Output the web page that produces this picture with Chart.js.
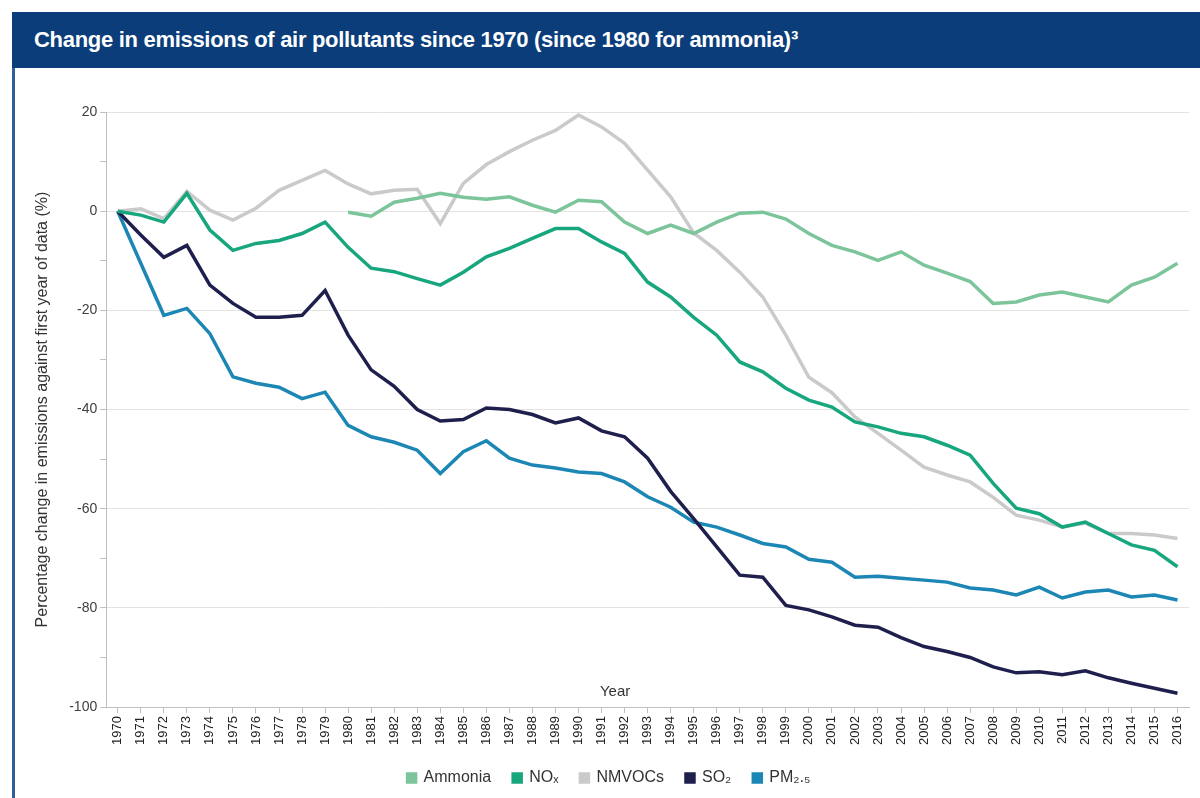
<!DOCTYPE html>
<html>
<head>
<meta charset="utf-8">
<script src="https://cdn.jsdelivr.net/npm/chart.js@4/dist/chart.umd.min.js"></script>
<style>
  body { margin: 0; width: 1200px; height: 798px; background: #fff; overflow: hidden; position: relative; font-family: "Liberation Sans", Arial, sans-serif; }
  #header { position: absolute; left: 12px; top: 12px; width: 1188px; height: 56px; background: #0a3d7a; }
  #header h1 { margin: 0; padding-left: 22px; line-height: 56px; color: #fff; font-size: 22px; font-weight: bold; letter-spacing: -0.3px; }
  #leftBorder { position: absolute; left: 12px; top: 68px; width: 3px; height: 730px; background: #2f5f98; }
  #chartBox { position: absolute; left: 15px; top: 68px; width: 1185px; height: 730px; }
</style>
</head>
<body>
<div id="header"><h1>Change in emissions of air pollutants since 1970 (since 1980 for ammonia)³</h1></div>
<div id="leftBorder"></div>
<div id="chartBox"><canvas id="emissionsChart" width="1185" height="730"></canvas></div>
<script>
  const years = [];
  for (let y = 1970; y <= 2016; y++) years.push(String(y));

  // percentage change against first year of data
  const ammonia = [null, null, null, null, null, null, null, null, null, null,
    -0.2, -1, 1.8, 2.6, 3.6, 2.8, 2.4, 2.9, 1.2, -0.2,
    2.2, 1.9, -2.2, -4.5, -2.8, -4.5, -2.2, -0.4, -0.2, -1.6,
    -4.5, -6.9, -8.2, -9.9, -8.2, -10.9, -12.5, -14.2, -18.6, -18.3,
    -16.9, -16.3, -17.3, -18.3, -14.9, -13.3, -10.5];
  const nox = [0, -0.8, -2.2, 3.6, -3.8, -7.9, -6.5, -5.9, -4.5, -2.2,
    -7.3, -11.5, -12.2, -13.6, -14.9, -12.3, -9.2, -7.5, -5.5, -3.5,
    -3.5, -6.2, -8.5, -14.3, -17.3, -21.4, -25, -30.4, -32.4, -35.7,
    -38.1, -39.5, -42.5, -43.5, -44.8, -45.5, -47.2, -49.2, -54.9, -59.9,
    -61, -63.7, -62.7, -65, -67.3, -68.4, -71.7];
  const nmvocs = [0, 0.5, -1.5, 4, 0.2, -1.8, 0.6, 4.2, 6.2, 8.2,
    5.5, 3.5, 4.2, 4.4, -2.5, 5.6, 9.4, 12, 14.3, 16.3,
    19.4, 17, 13.7, 8.3, 2.9, -4.4, -7.9, -12.3, -17.3, -25,
    -33.5, -36.6, -41.5, -44.8, -48.2, -51.6, -53.2, -54.6, -57.7, -61.3,
    -62.3, -63.7, -62.9, -65, -65, -65.3, -66];
  const so2 = [0, -4.8, -9.3, -6.9, -14.9, -18.6, -21.4, -21.4, -21, -16,
    -25, -32, -35.3, -40, -42.3, -42, -39.7, -40, -41, -42.7,
    -41.7, -44.3, -45.5, -49.8, -56.5, -62, -67.7, -73.4, -73.8, -79.5,
    -80.4, -81.8, -83.5, -83.9, -86, -87.8, -88.8, -90, -91.9, -93.1,
    -92.9, -93.5, -92.7, -94.1, -95.2, -96.2, -97.2];
  const pm25 = [0, -10.5, -21, -19.6, -24.7, -33.4, -34.7, -35.5, -37.8, -36.5,
    -43.2, -45.5, -46.6, -48.2, -52.9, -48.5, -46.3, -49.8, -51.2, -51.8,
    -52.6, -52.9, -54.6, -57.6, -59.7, -62.7, -63.7, -65.3, -67, -67.7,
    -70.2, -70.8, -73.8, -73.6, -74, -74.4, -74.8, -76, -76.4, -77.4,
    -75.8, -78, -76.8, -76.4, -77.8, -77.4, -78.4];

  const seriesNames = ['Ammonia', 'NOₓ', 'NMVOCs', 'SO₂', 'PM₂.₅'];
  const seriesColors = ['#7cc59b', '#17a67e', '#cacaca', '#1f1f4d', '#1c87b5'];
  const seriesData = [ammonia, nox, nmvocs, so2, pm25];

  // "Year" label sits inside the plot, just above the x axis
  const yearLabel = {
    id: 'yearLabel',
    afterDraw(chart) {
      const { ctx, chartArea } = chart;
      ctx.save();
      ctx.font = '15px "Liberation Sans", Arial, sans-serif';
      ctx.fillStyle = '#333';
      ctx.textAlign = 'center';
      ctx.textBaseline = 'bottom';
      ctx.fillText('Year', chartArea.left + chartArea.width * 0.47, chartArea.bottom - 8);
      ctx.restore();
    }
  };

  const ctx = document.getElementById('emissionsChart').getContext('2d');
  new Chart(ctx, {
    type: 'line',
    data: {
      labels: years,
      datasets: seriesData.map((d, i) => ({
        label: seriesNames[i],
        data: d,
        borderColor: seriesColors[i],
        backgroundColor: seriesColors[i],
        borderWidth: 3.5,
        pointRadius: 0,
        tension: 0,
        spanGaps: false
      }))
    },
    options: {
      responsive: false,
      animation: false,
      layout: { padding: { left: 14, right: 11, top: 44, bottom: 2 } },
      plugins: {
        legend: {
          position: 'bottom',
          labels: {
            usePointStyle: true,
            pointStyle: 'rect',
            boxWidth: 8,
            boxHeight: 8,
            padding: 22,
            color: '#333',
            font: { size: 16, family: '"Liberation Sans", Arial, sans-serif' }
          }
        },
        tooltip: { enabled: false }
      },
      scales: {
        x: {
          offset: true,
          border: { color: '#bfbfbf' },
          grid: { drawOnChartArea: false, color: '#bfbfbf', tickLength: 6 },
          ticks: {
            autoSkip: false,
            minRotation: 90,
            maxRotation: 90,
            color: '#222',
            font: { size: 13, family: '"Liberation Sans", Arial, sans-serif' }
          }
        },
        y: {
          min: -100,
          max: 20,
          border: { color: '#bfbfbf' },
          grid: {
            color: c => (c.tick && c.tick.value % 20 === 0) ? '#e3e3e3' : 'rgba(0,0,0,0)',
            tickColor: '#bfbfbf',
            tickLength: 6
          },
          ticks: {
            stepSize: 10,
            color: '#404040',
            font: { size: 14, family: '"Liberation Sans", Arial, sans-serif' },
            callback: v => (v % 20 === 0 ? v : '')
          },
          title: {
            display: true,
            text: 'Percentage change in emissions against first year of data (%)',
            color: '#333',
            padding: { top: 4, bottom: 14 },
            font: { size: 16, family: '"Liberation Sans", Arial, sans-serif' }
          }
        }
      }
    },
    plugins: [yearLabel]
  });
</script>
</body>
</html>
